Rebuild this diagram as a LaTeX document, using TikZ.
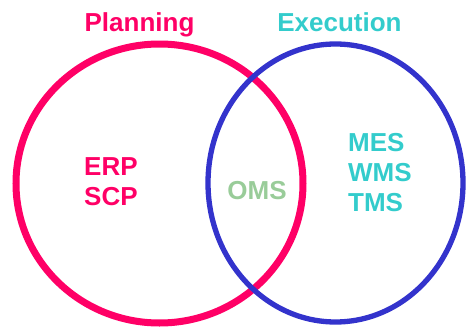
\documentclass[tikz,border=0pt]{standalone}
\usepackage{fontspec}
\setmainfont{Liberation Sans}
\definecolor{planpink}{HTML}{FF0066}
\definecolor{execblue}{HTML}{3333CC}
\definecolor{exectext}{HTML}{33CCCC}
\definecolor{shared}{HTML}{99CC99}
\begin{document}
\begin{tikzpicture}[x=1pt,y=-1pt,
  lbl/.style={inner sep=0pt,font=\fontsize{26}{30}\selectfont\bfseries},
  plan/.style={lbl,text=planpink},
  exec/.style={lbl,text=exectext}]
\useasboundingbox (0,0) rectangle (467,327);
% the two sets
\draw[planpink,line width=7pt] (159.5,183.5) ellipse [x radius=143.5,y radius=139.5];
\draw[execblue,line width=5.3pt] (335.5,183) ellipse [x radius=127.5,y radius=139];
% set titles
\node[plan,anchor=base] (planning) at (139.5,31) {Planning};
\node[exec,anchor=base] (execution) at (339.5,31) {Execution};
% planning systems
\node[plan,anchor=base west] (erp) at (84,175) {ERP};
\node[plan,anchor=base west] (scp) at (84,205) {SCP};
% shared system
\node[lbl,text=shared,anchor=base] (oms) at (257,199) {OMS};
% execution systems
\node[exec,anchor=base west] (mes) at (348,151) {MES};
\node[exec,anchor=base west] (wms) at (348,181) {WMS};
\node[exec,anchor=base west] (tms) at (348,211.5) {TMS};
\end{tikzpicture}
\end{document}
